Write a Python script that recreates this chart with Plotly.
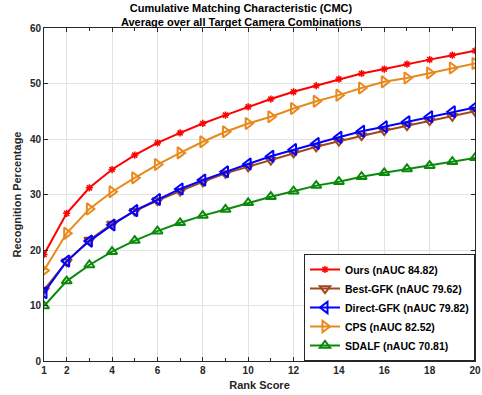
import plotly.graph_objects as go

ranks = list(range(1, 21))
ours = [19.2, 26.6, 31.2, 34.5, 37.1, 39.3, 41.1, 42.8, 44.3, 45.8, 47.2, 48.5, 49.6, 50.8, 51.8, 52.6, 53.5, 54.3, 55.1, 55.9]
best_gfk = [12.8, 17.9, 21.8, 24.7, 27.0, 28.9, 30.6, 32.3, 33.8, 35.0, 36.2, 37.5, 38.6, 39.6, 40.6, 41.5, 42.4, 43.3, 44.1, 45.0]
direct_gfk = [12.3, 18.0, 21.6, 24.5, 27.1, 29.1, 31.0, 32.6, 34.1, 35.5, 36.9, 38.1, 39.2, 40.3, 41.4, 42.2, 43.1, 44.0, 44.9, 45.7]
cps = [16.3, 23.0, 27.4, 30.5, 33.0, 35.4, 37.5, 39.5, 41.3, 42.8, 44.0, 45.5, 46.8, 47.9, 49.2, 50.3, 51.0, 51.9, 52.8, 53.6]
sdalf = [9.9, 14.4, 17.3, 19.7, 21.7, 23.4, 24.9, 26.2, 27.3, 28.5, 29.6, 30.6, 31.6, 32.3, 33.2, 33.9, 34.6, 35.2, 35.9, 36.6]

names = ["Ours (nAUC 84.82)", "Best-GFK (nAUC 79.62)", "Direct-GFK (nAUC 79.82)",
         "CPS (nAUC 82.52)", "SDALF (nAUC 70.81)"]
series = [ours, best_gfk, direct_gfk, cps, sdalf]
colors = ["#ff0000", "#a0461e", "#0000ff", "#e8891c", "#0a8a0a"]
symbols = ["asterisk-open", "triangle-down-open", "triangle-left-open", "triangle-right-open", "triangle-up-open"]
sizes = [6, 9, 10, 10, 9]
mlw = [1.5, 2, 2, 2, 2]

x_tickvals = [1, 2, 4, 6, 8, 10, 12, 14, 16, 18, 20]
y_tickvals = [0, 10, 20, 30, 40, 50, 60]

fig = go.Figure()
for name, ys, c, s, sz, lw in zip(names, series, colors, symbols, sizes, mlw):
    fig.add_trace(go.Scatter(
        x=ranks, y=ys, name=name, mode="lines+markers",
        line=dict(color=c, width=2),
        marker=dict(symbol=s, size=sz, color=c, line=dict(color=c, width=lw)),
    ))

font = "Liberation Sans, Arial, sans-serif"
fig.update_layout(
    width=482, height=395,
    margin=dict(l=44, r=7, t=28, b=34, autoexpand=False),
    paper_bgcolor="white", plot_bgcolor="white",
    font=dict(family=font, size=10, color="#262626"),
    title=dict(
        text="<b>Cumulative Matching Characteristic (CMC)<br>Average over all Target Camera Combinations</b>",
        x=0.5, xanchor="center", y=1 - 12 / 395, yanchor="middle",
        font=dict(family=font, size=11, color="black"),
    ),
    showlegend=True,
    legend=dict(
        x=1, y=0, xanchor="right", yanchor="bottom",
        bgcolor="white", bordercolor="#262626", borderwidth=1,
        font=dict(family=font, size=10.5, color="black", weight="bold"),
        tracegroupgap=0, itemwidth=30,
    ),
    xaxis=dict(
        range=[1, 20], tickvals=x_tickvals, ticktext=[str(v) for v in x_tickvals],
        ticks="inside", ticklen=4, tickcolor="#262626", ticklabeloverflow="allow",
        automargin=False,
        minor=dict(dtick=1, ticks="inside", ticklen=3, tickcolor="#262626", showgrid=False),
        showline=True, linecolor="#262626", linewidth=1, mirror="ticks",
        showgrid=True, gridcolor="#e3e3e3", gridwidth=1, zeroline=False,
        tickfont=dict(family=font, size=10, color="#262626", weight="bold"),
        title=dict(text="<b>Rank Score</b>", font=dict(family=font, size=11, color="#262626"), standoff=6),
    ),
    yaxis=dict(
        range=[0, 60], tickvals=y_tickvals,
        ticks="inside", ticklen=4, tickcolor="#262626", ticklabeloverflow="allow",
        automargin=False,
        showline=True, linecolor="#262626", linewidth=1, mirror="ticks",
        showgrid=True, gridcolor="#e3e3e3", gridwidth=1, zeroline=False,
        tickfont=dict(family=font, size=10, color="#262626", weight="bold"),
        title=dict(text="<b>Recognition Percentage</b>", font=dict(family=font, size=11, color="#262626"), standoff=6),
    ),
)

fig.write_html("out.html", config={"displayModeBar": False},
               post_script="document.body.style.margin='0';document.body.style.overflow='hidden';")
